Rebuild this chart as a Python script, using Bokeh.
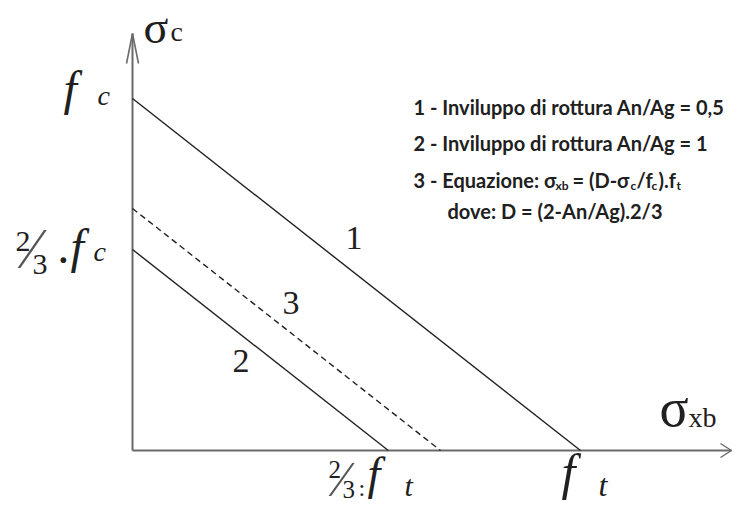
from bokeh.plotting import figure
from bokeh.models import Range1d, Label
from bokeh.embed import file_html
from bokeh.resources import INLINE

# Failure envelopes in normalised stress space (sigma_xb / f_t, sigma_c / f_c)
envelope_names = ["1", "2", "3"]
x_intercepts = [1.0, 0.571, 0.6875]   # where each envelope meets the sigma_xb axis
y_intercepts = [1.0, 0.571, 0.6875]   # where each envelope meets the sigma_c axis
dashed = [False, False, True]

legend_lines = [
    "1 - Inviluppo di rottura An/Ag = 0,5",
    "2 - Inviluppo di rottura An/Ag = 1",
    "dove: D = (2-An/Ag).2/3",
]

W, H = 733, 505
ORIGIN_PX = (132, 450)          # pixel position of the origin
PX_PER_X, PX_PER_Y = 448, 352   # pixels per unit f_t, per unit f_c

x0 = -ORIGIN_PX[0] / PX_PER_X
x1 = (W - ORIGIN_PX[0]) / PX_PER_X
y0 = -(H - ORIGIN_PX[1]) / PX_PER_Y
y1 = ORIGIN_PX[1] / PX_PER_Y

p = figure(width=W, height=H, x_range=Range1d(x0, x1), y_range=Range1d(y0, y1),
           x_axis_type=None, y_axis_type=None, toolbar_location=None,
           output_backend="svg", min_border=0, outline_line_color=None,
           background_fill_color="white", border_fill_color="white")

AXIS = "#6a6a6a"
INK = "#202020"
SERIF = "Liberation Serif"
SANS = "Lato"

# axes with open arrow heads
y_tip = (ORIGIN_PX[1] - 33) / PX_PER_Y
x_tip = (731 - ORIGIN_PX[0]) / PX_PER_X
p.line([0, 0], [0, y_tip], line_color=AXIS, line_width=2)
p.line([-6 / PX_PER_X, 0, 6 / PX_PER_X], [y_tip - 30 / PX_PER_Y, y_tip, y_tip - 30 / PX_PER_Y],
       line_color=AXIS, line_width=1.6)
p.line([0, x_tip], [0, 0], line_color=AXIS, line_width=2)
p.line([x_tip - 11 / PX_PER_X, x_tip, x_tip - 11 / PX_PER_X], [7 / PX_PER_Y, 0, -7 / PX_PER_Y],
       line_color=AXIS, line_width=1.4)

# envelopes
for xi, yi, d in zip(x_intercepts, y_intercepts, dashed):
    p.line([0, xi], [yi, 0], line_color=INK, line_width=1.4,
           line_dash="6 4" if d else "solid")

BASE_SHIFT = 0.38  # the labels sit this fraction of an em below the requested baseline


def put(txt, x, base, size, font=SERIF, style="normal", color=INK):
    y = H - base + BASE_SHIFT * size
    p.add_layout(Label(x=x, y=y, x_units="screen", y_units="screen", text=txt,
                       text_font=font, text_font_size=f"{size}px", text_font_style=style,
                       text_color=color, text_baseline="alphabetic", text_align="left"))


# axis titles
put("σ", 143, 44, 46)
put("c", 170, 42, 28)
put("σ", 659, 428, 54)
put("xb", 688, 428, 28)

# value labels on the sigma_c axis
put("f", 63, 106, 48, style="italic")
put("c", 97, 106, 28, style="italic")
put("2", 15, 252, 30)
put("⁄", 27, 270, 56, color="#555555")
put("3", 32, 275, 30)
put(".f", 58, 264, 48, style="italic")
put("c", 93, 262, 28, style="italic")

# value labels on the sigma_xb axis
put("2", 328, 478, 25)
put("⁄", 337, 497, 50, color="#555555")
put("3", 342, 498, 25)
put(":", 358, 497, 24)
put("f", 367, 490, 46, style="italic")
put("t", 404, 496, 30, style="italic")
put("f", 561, 490, 50, style="italic")
put("t", 598, 497, 32, style="italic")

# envelope numbers
put("1", 345, 250, 34)
put("3", 282, 315, 34)
put("2", 232, 373, 34)

# legend
LS = 20
SUB = 12
put(legend_lines[0], 413, 114, LS, font=SANS, style="bold")
put(legend_lines[1], 413, 150, LS, font=SANS, style="bold")
put("3 - Equazione: σ", 413, 187, LS, font=SANS, style="bold")
put("xb", 555, 190, SUB, font=SANS, style="bold")
put("= (D-σ", 572, 187, LS, font=SANS, style="bold")
put("c", 630, 190, SUB, font=SANS, style="bold")
put("/f", 636, 187, LS, font=SANS, style="bold")
put("c", 651, 190, SUB, font=SANS, style="bold")
put(").f", 658, 187, LS, font=SANS, style="bold")
put("t", 676, 190, SUB, font=SANS, style="bold")
put(legend_lines[2], 447, 218, LS, font=SANS, style="bold")

open("out.html", "w").write(file_html(p, INLINE))
